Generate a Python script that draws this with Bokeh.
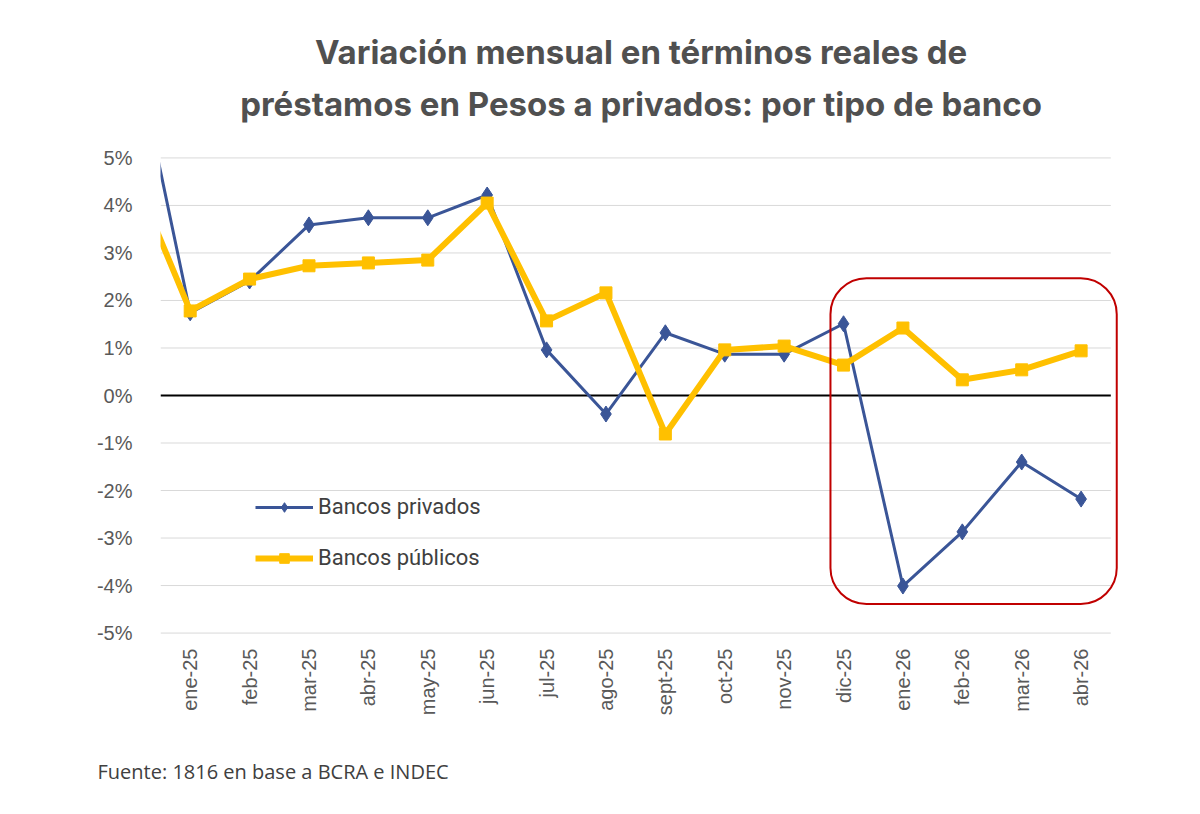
import math
from bokeh.plotting import figure
from bokeh.models import (Legend, LegendItem, FixedTicker, Title, BoxAnnotation)
from bokeh.embed import file_html
from bokeh.resources import INLINE

# ---- data ----
months = ["ene-25", "feb-25", "mar-25", "abr-25", "may-25", "jun-25", "jul-25", "ago-25",
          "sept-25", "oct-25", "nov-25", "dic-25", "ene-26", "feb-26", "mar-26", "abr-26"]
# first value belongs to the previous month (dic-24), drawn off the left edge
privados = [7.7, 1.74, 2.41, 3.59, 3.74, 3.74, 4.22, 0.96, -0.39, 1.32, 0.87, 0.87, 1.51,
            -4.01, -2.87, -1.40, -2.18]
publicos = [4.78, 1.78, 2.45, 2.73, 2.79, 2.85, 4.05, 1.57, 2.16, -0.81, 0.96, 1.04, 0.64,
            1.42, 0.33, 0.54, 0.94]
x_idx = list(range(-1, len(months)))
y_ticks = [-5, -4, -3, -2, -1, 0, 1, 2, 3, 4, 5]
y_labels = {t: f"{t}%" for t in y_ticks}

BLUE = "#3A5597"
YELLOW = "#FFC000"

p = figure(width=1200, height=814, output_backend="svg", toolbar_location=None,
           x_range=(-0.5, 15.68), y_range=(-5.03, 5.03),
           min_border_left=160, min_border_right=79, min_border_top=156, min_border_bottom=180)
p.outline_line_color = None
p.xgrid.visible = False
p.ygrid.visible = False

# grid lines
grid_y = [t for t in y_ticks if t != 0]
p.segment(x0=[-0.5] * len(grid_y), x1=[15.5] * len(grid_y), y0=grid_y, y1=grid_y,
          line_color="#D9D9D9", line_width=1)
p.segment(x0=[-0.5], x1=[15.5], y0=[0], y1=[0], line_color="black", line_width=2)

bl = p.line(x_idx, privados, line_color=BLUE, line_width=3)
bs = p.scatter(x_idx, privados, marker="diamond", size=16, fill_color=BLUE, line_color=BLUE)
yl = p.line(x_idx, publicos, line_color=YELLOW, line_width=6)
ys = p.scatter(x_idx, publicos, marker="square", size=12, fill_color=YELLOW, line_color=YELLOW)

box = BoxAnnotation(left=10.78, right=15.6, top=2.47, bottom=-4.39, fill_alpha=0,
                    line_color="#C00000", line_alpha=1.0, line_width=2, border_radius=36)
p.add_layout(box)

# axes
p.xaxis.ticker = FixedTicker(ticks=list(range(len(months))))
p.xaxis.major_label_overrides = {i: m for i, m in enumerate(months)}
p.xaxis.major_label_orientation = math.pi / 2
p.xaxis.axis_line_color = None
p.xaxis.major_tick_line_color = None
p.xaxis.minor_tick_line_color = None
p.xaxis.major_label_text_font = "Liberation Sans"
p.xaxis.major_label_text_font_size = "20px"
p.xaxis.major_label_text_color = "#595959"
p.xaxis.major_label_standoff = 8

p.yaxis.ticker = FixedTicker(ticks=y_ticks)
p.yaxis.major_label_overrides = y_labels
p.yaxis.axis_line_color = None
p.yaxis.major_tick_line_color = None
p.yaxis.minor_tick_line_color = None
p.yaxis.major_label_text_font = "Liberation Sans"
p.yaxis.major_label_text_font_size = "20px"
p.yaxis.major_label_text_color = "#595959"
p.yaxis.major_label_standoff = 22

legend = Legend(items=[LegendItem(label="Bancos privados", renderers=[bl, bs]),
                       LegendItem(label="Bancos públicos", renderers=[yl, ys])],
                location=(95, 64), glyph_width=58, glyph_height=24, label_height=24,
                spacing=26, padding=0, margin=0, label_standoff=5,
                background_fill_alpha=0, border_line_alpha=0,
                label_text_font="Roboto", label_text_font_size="22px",
                label_text_color="#404040")
p.add_layout(legend)

# titles (last added is farthest from the frame)
p.add_layout(Title(text=" ", text_font_size="14px"), "above")
p.add_layout(Title(text="préstamos en Pesos a privados: por tipo de banco", align="center",
                   text_font="Inter", text_font_style="bold", text_font_size="33px",
                   text_color="#505050"), "above")
p.add_layout(Title(text="Variación mensual en términos reales de", align="center",
                   text_font="Inter", text_font_style="bold", text_font_size="33px",
                   text_color="#505050"), "above")

p.add_layout(Title(text=" ", text_font_size="18px"), "below")
p.add_layout(Title(text="Fuente: 1816 en base a BCRA e INDEC", align="left", offset=-63,
                   text_font="Open Sans", text_font_style="normal", text_font_size="20px",
                   text_color="#404040"), "below")

open("out.html", "w").write(file_html(p, INLINE))
